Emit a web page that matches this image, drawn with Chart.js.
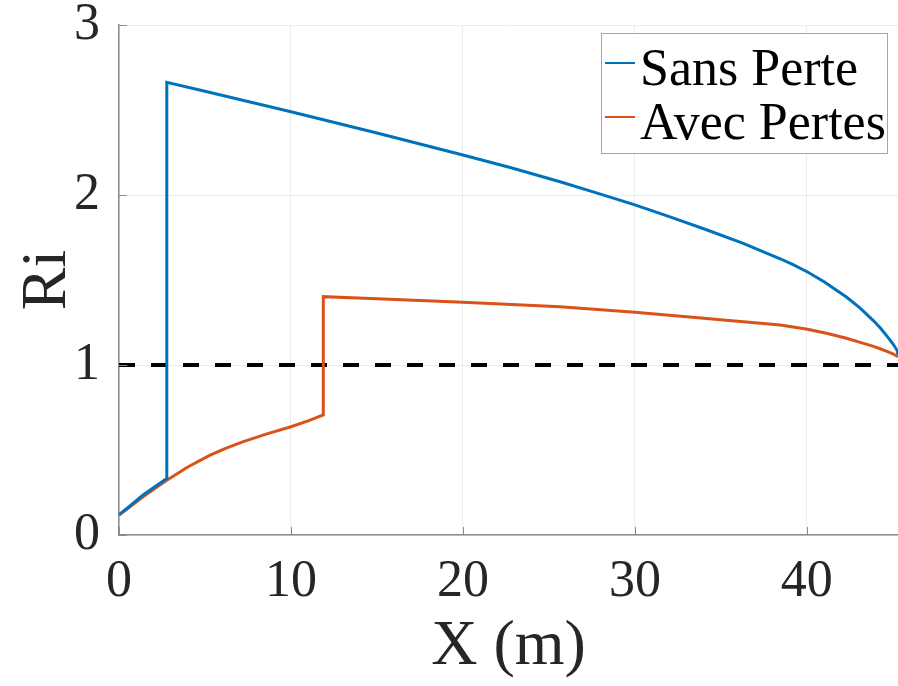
<!DOCTYPE html>
<html>
<head>
<meta charset="utf-8">
<script src="https://cdn.jsdelivr.net/npm/chart.js@4.4.1/dist/chart.umd.min.js"></script>
<style>
  html, body { margin: 0; padding: 0; background: #fff; }
  #wrap { width: 898px; height: 686px; }
</style>
</head>
<body>
<div id="wrap"><canvas id="riChart" width="898" height="686"></canvas></div>
<script>
const seriesLabels = ["Sans Perte", "Avec Pertes"];

// Sans Perte: jump at x ~ 2.78 m
const sansPerteX = [0, 1.4, 2.78, 2.78, 5, 10, 15, 20, 22.8, 25.65, 28, 30, 32, 34.2, 36.3, 38.45, 39.2, 40.04, 41, 42.3, 43.1, 43.88, 44.3, 44.66, 45.0, 45.24, 45.3];
const sansPerteY = [0.118, 0.235, 0.333, 2.663, 2.61, 2.49, 2.365, 2.235, 2.16, 2.078, 2.005, 1.942, 1.873, 1.794, 1.716, 1.625, 1.59, 1.547, 1.49, 1.40, 1.335, 1.26, 1.215, 1.17, 1.125, 1.088, 1.06];

// Avec Pertes: jump at x ~ 11.88 m
const avecPertesX = [0, 0.7, 1.4, 2.1, 2.78, 4, 5.3, 6.2, 7.23, 8.6, 10, 11, 11.88, 11.88, 15, 20, 25.65, 30, 34, 38.45, 40.04, 41.2, 42.3, 43.1, 43.88, 44.3, 44.66, 45.0, 45.3];
const avecPertesY = [0.118, 0.17, 0.225, 0.275, 0.322, 0.40, 0.47, 0.51, 0.549, 0.595, 0.637, 0.671, 0.706, 1.402, 1.39, 1.369, 1.343, 1.31, 1.275, 1.235, 1.21, 1.185, 1.157, 1.133, 1.11, 1.094, 1.08, 1.066, 1.049];

// Ri = 1 reference
const seuilX = [0, 45.3];
const seuilY = [1, 1];

const xTicks = [0, 10, 20, 30, 40];
const yTicks = [0, 1, 2, 3];

const serif = "'Liberation Serif', 'Times New Roman', serif";
const blue = "#0072BD";
const orange = "#D95319";

function toPoints(xs, ys) {
  return xs.map((x, i) => ({ x: x, y: ys[i] }));
}

// legend box drawn inside the plot, top-right, MATLAB style
const boxLegend = {
  id: "boxLegend",
  afterDraw(chart) {
    const ctx = chart.ctx;
    const area = chart.chartArea;
    const items = chart.data.datasets.filter((d) => d.inLegend);
    const left = area.right - 297;
    const top = area.top + 8;
    const w = 286;
    const rowH = 46;
    ctx.save();
    ctx.fillStyle = "#fff";
    ctx.fillRect(left, top, w, 120);
    ctx.strokeStyle = "#a6a6a6";
    ctx.lineWidth = 1;
    ctx.strokeRect(left + 0.5, top + 0.5, w, 120);
    ctx.font = "52px " + serif;
    ctx.textBaseline = "alphabetic";
    items.forEach((d, i) => {
      const cy = top + 30 + i * (rowH + 8);
      ctx.strokeStyle = d.borderColor;
      ctx.lineWidth = 2;
      ctx.beginPath();
      ctx.moveTo(left + 4, cy);
      ctx.lineTo(left + 34, cy);
      ctx.stroke();
      ctx.fillStyle = "#000";
      ctx.fillText(d.label, left + 39, cy + 22);
    });
    ctx.restore();
  },
};

// short inward tick marks on the two drawn axes
const innerTicks = {
  id: "innerTicks",
  afterDatasetsDraw(chart) {
    const ctx = chart.ctx;
    const area = chart.chartArea;
    const xs = chart.scales.x;
    const ys = chart.scales.y;
    ctx.save();
    ctx.strokeStyle = "#8c8c8c";
    ctx.lineWidth = 1;
    ctx.beginPath();
    xTicks.forEach((t) => {
      const px = Math.round(xs.getPixelForValue(t)) + 0.5;
      ctx.moveTo(px, area.bottom);
      ctx.lineTo(px, area.bottom - 8);
    });
    yTicks.forEach((t) => {
      const py = Math.round(ys.getPixelForValue(t)) + 0.5;
      ctx.moveTo(area.left, py);
      ctx.lineTo(area.left + 8, py);
    });
    ctx.stroke();
    ctx.restore();
  },
};

new Chart(document.getElementById("riChart"), {
  type: "line",
  data: {
    datasets: [
      {
        label: seriesLabels[0],
        data: toPoints(sansPerteX, sansPerteY),
        borderColor: blue,
        borderWidth: 3,
        pointRadius: 0,
        tension: 0,
        inLegend: true,
      },
      {
        label: seriesLabels[1],
        data: toPoints(avecPertesX, avecPertesY),
        borderColor: orange,
        borderWidth: 3,
        pointRadius: 0,
        tension: 0,
        inLegend: true,
      },
      {
        label: "Ri = 1",
        data: toPoints(seuilX, seuilY),
        borderColor: "#000",
        borderWidth: 4,
        borderDash: [16, 16],
        pointRadius: 0,
        inLegend: false,
      },
    ],
  },
  options: {
    responsive: false,
    animation: false,
    devicePixelRatio: 1,
    layout: { padding: { top: 25, right: 0, left: 0, bottom: 0 } },
    plugins: {
      legend: { display: false },
      tooltip: { enabled: false },
    },
    scales: {
      x: {
        type: "linear",
        min: 0,
        max: 45.3,
        afterBuildTicks: (axis) => {
          axis.ticks = xTicks.map((v) => ({ value: v }));
        },
        afterFit: (axis) => {
          axis.height = 151;
          axis.paddingLeft = 0;
          axis.paddingRight = 0;
        },
        grid: { color: "#ebebeb", lineWidth: 1, drawTicks: false },
        border: { display: true, color: "#8c8c8c", width: 1.5 },
        ticks: {
          padding: 16,
          color: "#262626",
          font: { family: serif, size: 52 },
          maxRotation: 0,
        },
        title: {
          display: true,
          text: "X (m)",
          color: "#262626",
          font: { family: serif, size: 64 },
          padding: { top: 0, bottom: 0 },
        },
      },
      y: {
        type: "linear",
        min: 0,
        max: 3,
        afterBuildTicks: (axis) => {
          axis.ticks = yTicks.map((v) => ({ value: v }));
        },
        afterFit: (axis) => {
          axis.width = 119;
          axis.paddingTop = 0;
          axis.paddingBottom = 0;
        },
        grid: { color: "#ebebeb", lineWidth: 1, drawTicks: false },
        border: { display: true, color: "#8c8c8c", width: 1.5 },
        ticks: {
          padding: 19,
          color: "#262626",
          font: { family: serif, size: 52 },
        },
        title: {
          display: true,
          text: "Ri",
          color: "#262626",
          font: { family: serif, size: 64 },
          padding: { top: 10, bottom: 0 },
        },
      },
    },
  },
  plugins: [innerTicks, boxLegend],
});
</script>
</body>
</html>
